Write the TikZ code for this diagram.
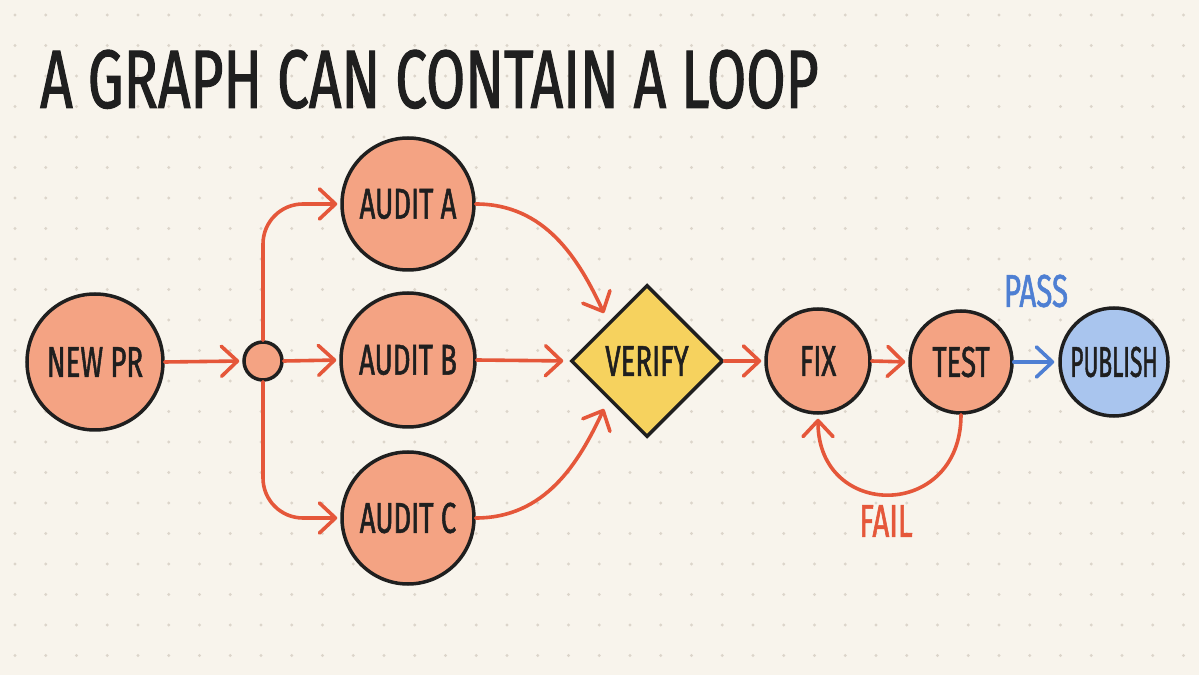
\documentclass[tikz,border=0pt]{standalone}
\usepackage{fontspec}
\usepackage{graphicx}
\usetikzlibrary{arrows.meta,shapes.geometric}
\newfontfamily\hand[FakeStretch=0.64,FakeBold=1.2]{Fira Sans}
\definecolor{bg}{HTML}{F8F4EC}
\definecolor{dotc}{HTML}{DCD5CA}
\definecolor{ink}{HTML}{1F1F1F}
\definecolor{peach}{HTML}{F4A383}
\definecolor{redline}{HTML}{E5573A}
\definecolor{yellowfill}{HTML}{F6D25E}
\definecolor{bluefill}{HTML}{A9C5EE}
\definecolor{blueline}{HTML}{4E7FD3}
\tikzset{
  nd/.style={circle, draw=ink, line width=3.5pt, fill=peach, inner sep=0pt,
    font=\hand\fontsize{43}{43}\selectfont, text=ink},
  dia/.style={diamond, draw=ink, line width=3.5pt, fill=yellowfill, inner sep=0pt,
    minimum width=152pt, minimum height=152pt,
    font=\hand\fontsize{43}{43}\selectfont, text=ink},
  conn/.style={draw=redline, line width=3.6pt, line cap=round, line join=round,
    -{Straight Barb[length=16pt,width=30pt,line cap=round,line join=round]}},
  lbl/.style={font=\hand\fontsize{46}{46}\selectfont, inner sep=0pt}
}
\begin{document}
\begin{tikzpicture}[x=1pt,y=1pt]
\useasboundingbox (0,0) rectangle (1199,675);
\fill[bg] (0,0) rectangle (1199,675);
\foreach \i in {0,...,38}{
  \foreach \j in {0,...,21}{
    \fill[dotc] ({15+\i*30.75},{660-\j*30.5}) circle (1.6);
  }
}
\node[anchor=south west, inner sep=0pt, text=ink] (title) at (40,566)
  {\resizebox{778pt}{58pt}{\hand A GRAPH CAN CONTAIN A LOOP}};

\node[nd, minimum size=136pt] (newpr) at (95,313) {NEW PR};
\node[nd, minimum size=38pt] (j) at (263,314) {};
\node[nd, minimum size=132pt] (auditA) at (408,471) {AUDIT A};
\node[nd, minimum size=134pt] (auditB) at (408,315) {AUDIT B};
\node[nd, minimum size=132pt] (auditC) at (408,157) {AUDIT C};
\node[dia] (verify) at (647,314) {VERIFY};
\node[nd, minimum size=104pt] (fix) at (818,314) {FIX};
\node[nd, minimum size=102pt] (test) at (961,313) {TEST};
\node[nd, minimum size=108pt, fill=bluefill] (publish) at (1114,313) {\scalebox{0.82}[1]{PUBLISH}};

\node[lbl, text=blueline] (pass) at (1036,384) {PASS};
\node[lbl, text=redline] (fail) at (886,154) {FAIL};

\draw[conn, shorten >=3pt] (newpr.east) -- (j.west);
\draw[conn, shorten >=3pt, rounded corners=40pt] (j.north) |- (auditA.west);
\draw[conn, shorten >=3pt] (j.east) -- (auditB.west);
\draw[conn, shorten >=3pt, rounded corners=40pt] (j.south) |- (auditC.west);
\draw[conn, shorten >=10pt] (auditA.east) to[out=0,in=115] (verify.north west);
\draw[conn, shorten >=6pt] (auditB.east) -- (verify.west);
\draw[conn, shorten >=10pt] (auditC.east) to[out=0,in=-115] (verify.south west);
\draw[conn, shorten >=3pt] (verify.east) -- (fix.west);
\draw[conn, shorten >=3pt] (fix.east) -- (test.west);
\draw[conn, draw=blueline, shorten >=4pt] (test.east) -- (publish.west);
\draw[conn, shorten >=4pt] (test.south) to[out=-90,in=-90,looseness=1.9] (fix.south);
\end{tikzpicture}
\end{document}
